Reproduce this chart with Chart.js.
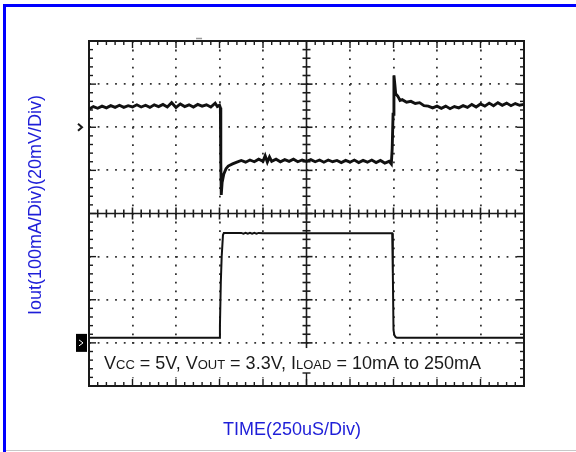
<!DOCTYPE html>
<html>
<head>
<meta charset="utf-8">
<script src="https://cdn.jsdelivr.net/npm/chart.js@4.4.1/dist/chart.umd.min.js"></script>
<style>
  html, body { margin: 0; padding: 0; background: #fff; }
  #wrap { width: 576px; height: 452px; }
</style>
</head>
<body>
<div id="wrap"><canvas id="scope" width="576" height="452"></canvas></div>
<script>
// Datos (unidades: divisiones, 10 x 8)
// Canal superior: Vout (20mV/Div), con ruido
var voutTime = [0.0, 0.1, 0.2, 0.3, 0.4, 0.5, 0.6, 0.7, 0.8, 0.9,
    1.0, 1.1, 1.2, 1.3, 1.4, 1.5, 1.6, 1.7, 1.8, 1.9,
    2.0, 2.1, 2.2, 2.3, 2.4, 2.5, 2.6, 2.7, 2.8, 2.9, 2.95, 3.0,
    3.02, 3.03, 3.04, 3.06, 3.1, 3.15, 3.2, 3.3, 3.4, 3.5, 3.6, 3.7, 3.8, 3.9,
    4.0, 4.05, 4.1, 4.15, 4.2, 4.3, 4.4, 4.5, 4.6, 4.7, 4.8, 4.9,
    5.0, 5.1, 5.2, 5.3, 5.4, 5.5, 5.6, 5.7, 5.8, 5.9,
    6.0, 6.1, 6.2, 6.3, 6.4, 6.5, 6.6, 6.7, 6.8, 6.9, 6.95,
    6.97, 6.99, 7.01, 7.03, 7.05, 7.1, 7.15, 7.2, 7.3, 7.4, 7.5, 7.6, 7.7, 7.8, 7.9,
    8.0, 8.1, 8.2, 8.3, 8.4, 8.5, 8.6, 8.7, 8.8, 8.9,
    9.0, 9.1, 9.2, 9.3, 9.4, 9.5, 9.6, 9.7, 9.8, 9.9, 10.0];
var voutLevel = [6.42, 6.48, 6.44, 6.49, 6.45, 6.50, 6.46, 6.51, 6.46, 6.50,
    6.47, 6.52, 6.47, 6.51, 6.46, 6.52, 6.48, 6.53, 6.47, 6.57,
    6.46, 6.54, 6.48, 6.52, 6.47, 6.53, 6.49, 6.52, 6.47, 6.56, 6.48, 6.51,
    6.45, 5.20, 4.43, 4.72, 4.92, 5.04, 5.10, 5.15, 5.19, 5.23, 5.19, 5.24, 5.20, 5.26,
    5.21, 5.34, 5.19, 5.31, 5.21, 5.26, 5.20, 5.25, 5.21, 5.26, 5.20, 5.24,
    5.21, 5.25, 5.20, 5.24, 5.19, 5.24, 5.20, 5.23, 5.18, 5.23,
    5.19, 5.24, 5.18, 5.23, 5.19, 5.24, 5.18, 5.23, 5.17, 5.21, 5.15,
    5.50, 6.30, 7.20, 7.00, 6.78, 6.72, 6.62, 6.64, 6.58, 6.60, 6.55, 6.57, 6.50, 6.49, 6.45,
    6.49, 6.44, 6.49, 6.43, 6.48, 6.45, 6.50, 6.46, 6.53, 6.47,
    6.54, 6.49, 6.56, 6.50, 6.57, 6.51, 6.56, 6.50, 6.55, 6.51, 6.53];

// Canal inferior: Iout (100mA/Div), escalon de carga 10mA -> 250mA
var ioutTime = [0, 2.99, 3.01, 3.03, 3.05, 3.08, 3.1, 3.5, 3.55, 3.6, 3.65, 3.7, 3.75, 3.8, 3.85, 3.9,
    4.0, 5.0, 6.0, 6.97, 6.985, 7.0, 7.02, 7.05, 7.08, 10];
var ioutLevel = [1.12, 1.12, 1.40, 2.40, 3.00, 3.50, 3.55, 3.55, 3.53, 3.55, 3.53, 3.55, 3.53, 3.55, 3.53, 3.55,
    3.54, 3.54, 3.54, 3.54, 2.60, 1.30, 1.18, 1.13, 1.12, 1.12];

// Textos
var yTitle = 'Iout(100mA/Div)(20mV/Div)';
var xTitle = 'TIME(250uS/Div)';
var noteRuns = [['V', 18], ['CC', 13], [' = 5V, V', 18], ['OUT', 13], [' = 3.3V, I', 18], ['LOAD', 13], [' = 10mA to 250mA', 18]];

function toPoints(xs, ys) {
    var out = [];
    for (var i = 0; i < xs.length; i++) out.push({ x: xs[i], y: ys[i] });
    return out;
}

var blue = '#1e1ed8';
var fontName = '"Liberation Sans", Arial, sans-serif';

// Plugin para dibujar la reticula del osciloscopio
var scopeFace = {
    id: 'scopeFace',
    beforeDraw: function (chart) {
        var ctx = chart.ctx;
        ctx.save();
        ctx.fillStyle = '#fff';
        ctx.fillRect(0, 0, chart.width, chart.height);
        // marco azul
        ctx.fillStyle = '#0000ff';
        ctx.fillRect(3, 4, chart.width - 3, 3);
        ctx.fillRect(3, 4, 3, chart.height - 4);
        ctx.fillStyle = '#c8c8c8';
        ctx.fillRect(6, chart.height - 2, chart.width - 6, 1);
        ctx.restore();
    },
    beforeDatasetsDraw: function (chart) {
        var ctx = chart.ctx;
        var xs = chart.scales.x, ys = chart.scales.y;
        var px = function (v) { return xs.getPixelForValue(v); };
        var py = function (v) { return ys.getPixelForValue(v); };
        var L = px(0), R = px(10), T = py(8), B = py(0), cx = px(5), cy = py(4);
        var i, v, len;
        function seg(x1, y1, x2, y2) { ctx.beginPath(); ctx.moveTo(x1, y1); ctx.lineTo(x2, y2); ctx.stroke(); }

        ctx.save();
        ctx.strokeStyle = '#1a1a1a';
        ctx.lineWidth = 1.6;
        // cruz central
        seg(L, cy, R, cy);
        seg(cx, T, cx, py(0.8));
        for (i = 0; i <= 50; i++) {
            v = i * 0.2; len = (i % 5 === 0) ? 6 : 4;
            seg(px(v), cy - len, px(v), cy + len);
        }
        for (i = 5; i <= 40; i++) {
            v = i * 0.2; len = (i % 5 === 0) ? 6 : 4;
            seg(cx - len, py(v), cx + len, py(v));
        }

        // caja blanca del texto
        ctx.fillStyle = '#fff';
        ctx.fillRect(px(0.15), py(0.88), px(9.85) - px(0.15), py(0.2) - py(0.88));

        // texto de condiciones
        ctx.fillStyle = '#1a1a1a';
        ctx.textBaseline = 'alphabetic';
        ctx.textAlign = 'left';
        var tx = 104, base = 369;
        noteRuns.forEach(function (r) {
            ctx.font = r[1] + 'px ' + fontName;
            ctx.fillText(r[0], tx, base);
            tx += ctx.measureText(r[0]).width;
        });

        // marco con marcas
        ctx.lineWidth = 2;
        ctx.strokeRect(L, T, R - L, B - T);
        ctx.lineWidth = 1.4;
        for (i = 0; i <= 50; i++) {
            v = i * 0.2; len = (i % 5 === 0) ? 7 : 4;
            seg(px(v), T, px(v), T + len);
            seg(px(v), B, px(v), B - len);
        }
        seg(cx, B, cx, B - 13);
        seg(cx - 4, B - 13, cx + 4, B - 13);
        for (i = 0; i <= 40; i++) {
            v = i * 0.2; len = (i % 5 === 0) ? 7 : 4;
            seg(L, py(v), L + len, py(v));
            seg(R, py(v), R - len, py(v));
        }

        // marcadores de canal
        var m1 = py(6);
        ctx.lineWidth = 2;
        ctx.beginPath();
        ctx.moveTo(78, m1 - 3.5); ctx.lineTo(82, m1); ctx.lineTo(78, m1 + 3.5);
        ctx.stroke();
        var m2 = py(1);
        ctx.fillStyle = '#000';
        ctx.fillRect(76, m2 - 9, 11, 18);
        ctx.strokeStyle = '#fff';
        ctx.lineWidth = 1;
        ctx.beginPath();
        ctx.moveTo(79, m2 - 3); ctx.lineTo(83, m2); ctx.lineTo(79, m2 + 3);
        ctx.stroke();
        // marca de disparo
        ctx.strokeStyle = '#999';
        ctx.lineWidth = 1.5;
        seg(px(2.53) - 3, T - 2.5, px(2.53) + 3, T - 2.5);

        // titulos de ejes
        ctx.fillStyle = blue;
        ctx.font = '18px ' + fontName;
        ctx.textAlign = 'center';
        ctx.textBaseline = 'middle';
        ctx.fillText(xTitle, 292, 430);
        ctx.translate(36, 205);
        ctx.rotate(-Math.PI / 2);
        ctx.fillText(yTitle, 0, 0);
        ctx.restore();
    }
};

function gridColor(edges) {
    return function (c) {
        var val = c.tick ? c.tick.value : null;
        return edges.indexOf(val) >= 0 ? 'rgba(0,0,0,0)' : '#333';
    };
}

var ctx = document.getElementById('scope').getContext('2d');
var scopeChart = new Chart(ctx, {
    type: 'line',
    data: {
        datasets: [{
            label: 'Vout',
            data: toPoints(voutTime, voutLevel),
            borderColor: '#111',
            borderWidth: 2.9,
            pointRadius: 0,
            tension: 0
        }, {
            label: 'Iout',
            data: toPoints(ioutTime, ioutLevel),
            borderColor: '#111',
            borderWidth: 2,
            pointRadius: 0,
            tension: 0
        }]
    },
    options: {
        responsive: false,
        animation: false,
        devicePixelRatio: 1,
        layout: { padding: { left: 89, right: 52, top: 41, bottom: 66 } },
        plugins: { legend: { display: false }, tooltip: { enabled: false } },
        scales: {
            x: {
                type: 'linear', min: 0, max: 10,
                ticks: { display: false, stepSize: 1 },
                grid: { color: gridColor([0, 5, 10]), lineWidth: 1.8, drawTicks: false },
                border: { display: false, dash: [1.8, 6.8] }
            },
            y: {
                type: 'linear', min: 0, max: 8,
                ticks: { display: false, stepSize: 1 },
                grid: { color: gridColor([0, 4, 8]), lineWidth: 1.8, drawTicks: false },
                border: { display: false, dash: [1.8, 6.9] }
            }
        }
    },
    plugins: [scopeFace]
});
</script>
</body>
</html>
